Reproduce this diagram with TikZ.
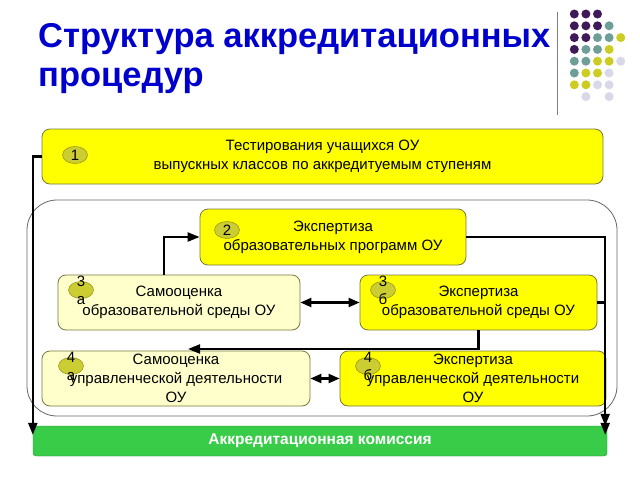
\documentclass[tikz,border=0pt]{standalone}
\usepackage{fontspec}
\setmainfont{Liberation Sans}
\usetikzlibrary{arrows.meta,shapes.geometric}
\definecolor{titleblue}{RGB}{0,0,204}
\definecolor{boxyellow}{RGB}{255,255,0}
\definecolor{paleyellow}{RGB}{255,255,204}
\definecolor{boxedge}{RGB}{120,120,60}
\definecolor{markfill}{RGB}{204,204,51}
\definecolor{markedge}{RGB}{128,128,0}
\definecolor{commgreen}{RGB}{56,204,72}
\definecolor{dotpurple}{RGB}{64,26,88}
\definecolor{dotteal}{RGB}{110,158,152}
\definecolor{dotyellow}{RGB}{204,204,34}
\definecolor{dotlilac}{RGB}{216,216,232}
\tikzset{
    stagebox/.style={draw=boxedge, line width=0.8pt, rounded corners=8pt, align=center, inner sep=0pt, font=\fontsize{15}{19}\selectfont}, % общий вид блоков
    expbox/.style={stagebox, fill=boxyellow},   % экспертиза
    selfbox/.style={stagebox, fill=paleyellow}, % самооценка
    marker/.style={ellipse, draw=markedge, fill=markfill, minimum width=25pt, minimum height=17pt, inner sep=0pt},
    marktext/.style={align=center, inner sep=0pt, font=\fontsize{15}{18}\selectfont},
    link/.style={line width=2.2pt, -{Triangle[length=12pt,width=9pt]}},
    twoway/.style={line width=2.2pt, {Triangle[length=11pt,width=9pt]}-{Triangle[length=11pt,width=9pt]}}
}

\begin{document}
\begin{tikzpicture}[x=1pt, y=-1pt]
    \useasboundingbox (0,0) rectangle (640,480);

    % заголовок и декор
    \node[anchor=base west, align=left, inner sep=0pt, text=titleblue, font=\fontsize{34.5}{39}\selectfont\bfseries] (title) at (38,86) {Структура аккредитационных\\процедур};
    \draw[gray, line width=1pt] (557,12) -- (557,115);
    \foreach \c/\r/\col in {0/0/dotpurple, 1/0/dotpurple, 2/0/dotpurple,
        0/1/dotpurple, 1/1/dotpurple, 2/1/dotpurple, 3/1/dotteal,
        0/2/dotpurple, 1/2/dotpurple, 2/2/dotteal, 3/2/dotteal, 4/2/dotyellow,
        0/3/dotpurple, 1/3/dotteal, 2/3/dotteal, 3/3/dotyellow,
        0/4/dotteal, 1/4/dotteal, 2/4/dotyellow, 3/4/dotyellow, 4/4/dotlilac,
        0/5/dotteal, 1/5/dotyellow, 2/5/dotyellow, 3/5/dotlilac,
        0/6/dotyellow, 1/6/dotyellow, 2/6/dotlilac, 3/6/dotlilac,
        1/7/dotlilac, 3/7/dotlilac}
        {\fill[\col] (574.3+11.6*\c, 14+11.8*\r) circle (4.5pt);}

    % рамка этапов
    \draw[gray!80!black, line width=0.8pt, rounded corners=30pt] (27,200) rectangle (617,416);

    % блоки
    \node[expbox, minimum width=561pt, minimum height=55pt] (test) at (322.5,156.5) {Тестирования учащихся ОУ\\выпускных классов по аккредитуемым ступеням};
    \node[expbox, minimum width=266pt, minimum height=56pt] (exprog) at (333,237) {Экспертиза\\образовательных программ ОУ};
    \node[selfbox, minimum width=242pt, minimum height=55pt] (selfenv) at (179,302.5) {Самооценка\\образовательной среды ОУ};
    \node[expbox, minimum width=237pt, minimum height=55pt] (expenv) at (478.5,302.5) {Экспертиза\\образовательной среды ОУ};
    \node[selfbox, minimum width=268pt, minimum height=55pt] (selfman) at (176,378.5) {Самооценка\\управленческой деятельности\\ОУ};
    \node[expbox, minimum width=266pt, minimum height=55pt] (expman) at (473,378.5) {Экспертиза\\управленческой деятельности\\ОУ};
    \node[draw=commgreen!70!black, fill=commgreen, rounded corners=3pt, minimum width=574pt, minimum height=30pt, inner sep=0pt, text=white, font=\fontsize{15.5}{18}\selectfont\bfseries] (commis) at (320,441) {Аккредитационная комиссия};

    % номера
    \node[marker] (m1) at (75,155) {};
    \node[marktext] (t1) at (m1) {1};
    \node[marker] (m2) at (227,230) {};
    \node[marktext] (t2) at (m2) {2};
    \node[marker] (m3a) at (81,290) {};
    \node[marktext] (t3a) at (m3a) {3\\а};
    \node[marker] (m3b) at (383,290) {};
    \node[marktext] (t3b) at (m3b) {3\\б};
    \node[marker] (m4a) at (71,366) {};
    \node[marktext] (t4a) at (m4a) {4\\а};
    \node[marker] (m4b) at (368,366) {};
    \node[marktext] (t4b) at (m4b) {4\\б};

    % связи
    \coordinate (drop) at (188,349);
    \draw[link] (test.west) -| ([yshift=-9pt]commis.north west);
    \draw[link] (exprog.east) -| ([xshift=-2pt,yshift=-9pt]commis.north east);
    \draw[link] (expenv.east) -| ([xshift=-2pt]commis.north east);
    \draw[link] ([xshift=-15pt]selfenv.north) |- (exprog.west);
    \draw[link] (expenv.south) |- (drop);
    \draw[twoway] (selfenv) -- (expenv);
    \draw[twoway] (selfman) -- (expman);
\end{tikzpicture}
\end{document}
